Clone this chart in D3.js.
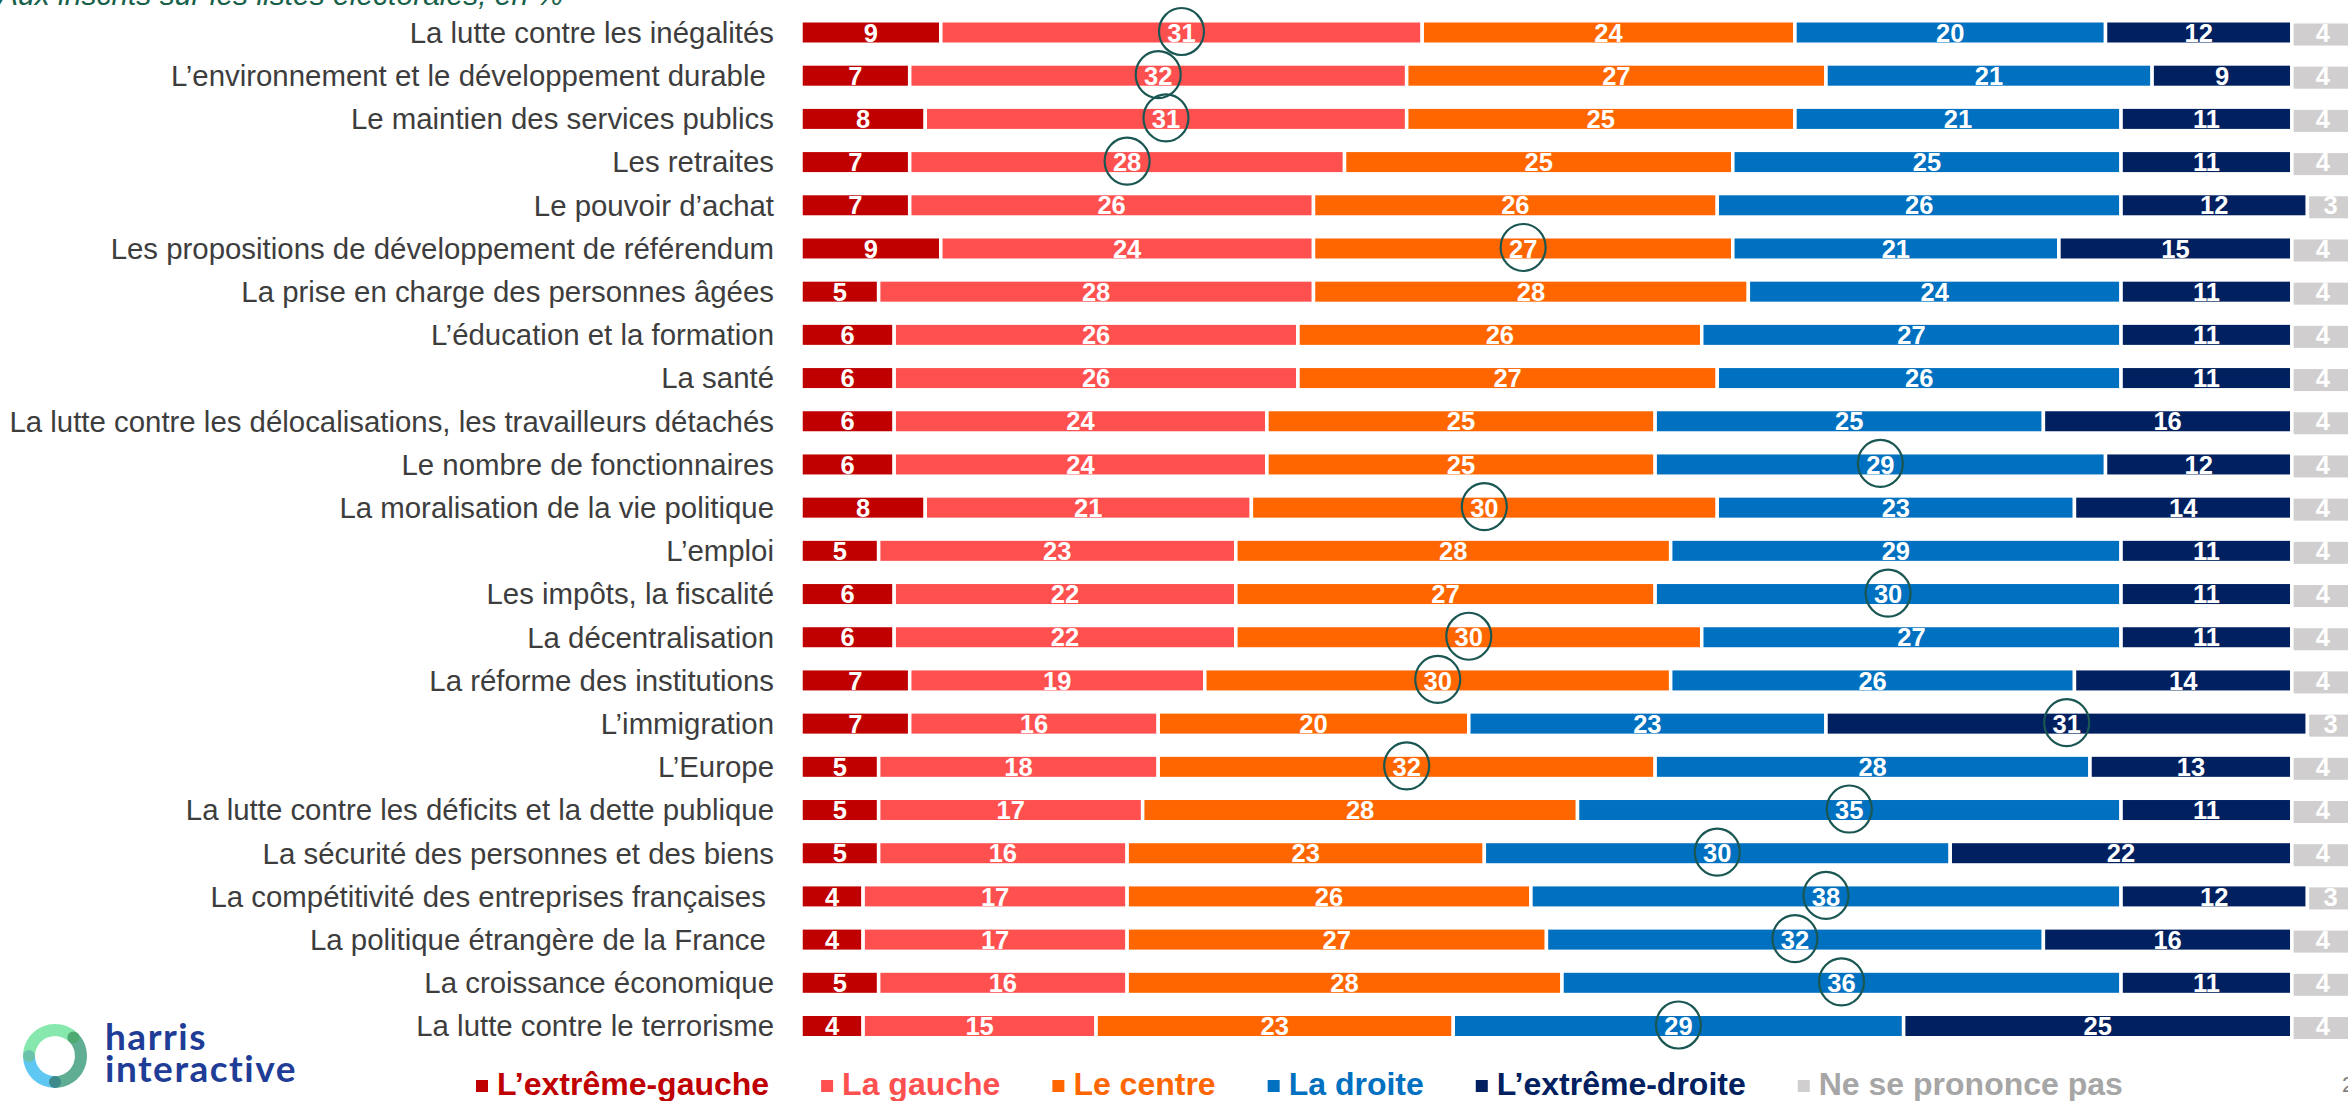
<!DOCTYPE html>
<html>
<head>
<meta charset="utf-8">
<script src="https://cdn.jsdelivr.net/npm/d3@7"></script>
<style>
	body { margin: 0; background: #ffffff; }
	svg { display: block; font-family: 'Liberation Sans', Arial, sans-serif; }
</style>
</head>
<body>
<div id="chart"></div>
<script>
// Issues (rows), top to bottom
const categories = [
	'La lutte contre les inégalités',
	'L’environnement et le développement durable ',
	'Le maintien des services publics',
	'Les retraites',
	'Le pouvoir d’achat',
	'Les propositions de développement de référendum',
	'La prise en charge des personnes âgées',
	'L’éducation et la formation',
	'La santé',
	'La lutte contre les délocalisations, les travailleurs détachés',
	'Le nombre de fonctionnaires',
	'La moralisation de la vie politique',
	'L’emploi',
	'Les impôts, la fiscalité',
	'La décentralisation',
	'La réforme des institutions',
	'L’immigration',
	'L’Europe',
	'La lutte contre les déficits et la dette publique',
	'La sécurité des personnes et des biens',
	'La compétitivité des entreprises françaises ',
	'La politique étrangère de la France ',
	'La croissance économique',
	'La lutte contre le terrorisme'
];

// Series (stack order, left to right)
const series = ['L’extrême-gauche', 'La gauche', 'Le centre', 'La droite', 'L’extrême-droite', 'Ne se prononce pas'];
const seriesColors = ['#c00000', '#ff5050', '#ff6600', '#0070c0', '#002060', '#d0cece'];
const legendTextColors = ['#c00000', '#ff5050', '#ff6600', '#0070c0', '#002060', '#a6a6a6'];

// Values in %
const extremeGauche = [9, 7, 8, 7, 7, 9, 5, 6, 6, 6, 6, 8, 5, 6, 6, 7, 7, 5, 5, 5, 4, 4, 5, 4];
const gauche        = [31, 32, 31, 28, 26, 24, 28, 26, 26, 24, 24, 21, 23, 22, 22, 19, 16, 18, 17, 16, 17, 17, 16, 15];
const centre        = [24, 27, 25, 25, 26, 27, 28, 26, 27, 25, 25, 30, 28, 27, 30, 30, 20, 32, 28, 23, 26, 27, 28, 23];
const droite        = [20, 21, 21, 25, 26, 21, 24, 27, 26, 25, 29, 23, 29, 30, 27, 26, 23, 28, 35, 30, 38, 32, 36, 29];
const extremeDroite = [12, 9, 11, 11, 12, 15, 11, 11, 11, 16, 12, 14, 11, 11, 11, 14, 31, 13, 11, 22, 12, 16, 11, 25];
const nsp           = [4, 4, 4, 4, 3, 4, 4, 4, 4, 4, 4, 4, 4, 4, 4, 4, 3, 4, 4, 4, 3, 4, 4, 4];

// Circled segment on each row (series index, null = none)
const circled = [1, 1, 1, 1, null, 2, null, null, null, null, 3, 2, null, 3, 2, 2, 4, 2, 3, 3, 3, 3, 3, 3];

const subtitle = 'Aux inscrits sur les listes électorales, en %';

const width = 2348,
	height = 1101;

const svg = d3.select('#chart').append('svg')
	.attr('width', width)
	.attr('height', height);

svg.append('rect')
	.attr('width', width)
	.attr('height', height)
	.attr('fill', '#ffffff');

// Build table for the stack
const table = categories.map((c, i) => ({
	category: c,
	0: extremeGauche[i],
	1: gauche[i],
	2: centre[i],
	3: droite[i],
	4: extremeDroite[i],
	5: nsp[i]
}));

const stacked = d3.stack().keys([0, 1, 2, 3, 4, 5])(table);

// Scales
const x = d3.scaleLinear().domain([0, 100]).range([801, 2354]);
const y = d3.scalePoint().domain(categories).range([32.5, 1026]);
const barH = 23.5;

// Subtitle (cut at the top of the slide)
svg.append('text')
	.attr('x', -2)
	.attr('y', 5)
	.style('font-size', '30px')
	.style('font-style', 'italic')
	.style('fill', '#17604a')
	.text(subtitle);

// Row labels
svg.append('g')
	.selectAll('text')
	.data(categories)
	.enter()
	  .append('text')
		.attr('x', 774)
		.attr('y', d => y(d))
		.attr('dy', '0.35em')
		.attr('text-anchor', 'end')
		.style('white-space', 'pre')
		.style('font-size', '29.4px')
		.style('fill', '#3d3d3d')
		.text(d => d);

// Bars
const layers = svg.append('g')
	.selectAll('g')
	.data(stacked)
	.enter()
	  .append('g')
		.attr('fill', d => seriesColors[d.key]);

layers.selectAll('rect')
	.data(d => d.map(v => Object.assign(v, {key: d.key})))
	.enter()
	  .append('rect')
		.attr('x', d => x(d[0]))
		.attr('y', d => y(d.data.category) - barH / 2 + (d.key === 5 ? 1 : 0))
		.attr('width', d => x(d[1]) - x(d[0]))
		.attr('height', d => barH + (d.key === 5 ? 2 : 0))
		.attr('stroke', '#ffffff')
		.attr('stroke-width', 3.5);

// Value labels
layers.selectAll('text')
	.data(d => d)
	.enter()
	  .append('text')
		.attr('x', d => x((d[0] + d[1]) / 2))
		.attr('y', d => y(d.data.category))
		.attr('dy', '0.36em')
		.attr('text-anchor', 'middle')
		.style('font-size', '25.5px')
		.style('font-weight', 'bold')
		.style('fill', '#ffffff')
		.text(d => d[1] - d[0]);

// Circles around the highlighted values
svg.append('g')
	.selectAll('ellipse')
	.data(categories.map((c, i) => ({category: c, i: i, k: circled[i]})).filter(d => d.k !== null))
	.enter()
	  .append('ellipse')
		.attr('cx', d => x((stacked[d.k][d.i][0] + stacked[d.k][d.i][1]) / 2))
		.attr('cy', d => y(d.category) - 1)
		.attr('rx', 22.5)
		.attr('ry', 23.5)
		.attr('fill', 'none')
		.attr('stroke', '#1a5753')
		.attr('stroke-width', 2.2);

// Legend
const legend = svg.append('g').attr('transform', 'translate(476,1095)');
let lx = 0;
series.forEach((s, i) => {
	legend.append('rect')
		.attr('x', lx)
		.attr('y', -15)
		.attr('width', 12)
		.attr('height', 12)
		.attr('fill', seriesColors[i]);
	const t = legend.append('text')
		.attr('x', lx + 21)
		.attr('y', 0)
		.style('font-size', '32px')
		.style('font-weight', 'bold')
		.style('fill', legendTextColors[i])
		.text(s);
	lx += 21 + t.node().getComputedTextLength() + 52;
});

// Page number, cut at the right edge
svg.append('text')
	.attr('x', 2342)
	.attr('y', 1092)
	.style('font-size', '22px')
	.style('fill', '#7f7f7f')
	.text('2');

// Logo
const logo = svg.append('g').attr('transform', 'translate(55,1056)');
const ring = d3.arc().innerRadius(20).outerRadius(32);
[
	{start: -Math.PI / 2, end: Math.PI / 4, color: '#86e8ac'},
	{start: Math.PI / 4, end: Math.PI, color: '#5fae94'},
	{start: Math.PI, end: 3 * Math.PI / 2, color: '#5ec8f3'}
].forEach(s => {
	logo.append('path')
		.attr('d', ring.startAngle(s.start).endAngle(s.end)())
		.attr('fill', s.color);
});
[
	{a: Math.PI / 4, color: '#4dab72'},
	{a: Math.PI, color: '#3f8a8c'},
	{a: -Math.PI / 2, color: '#6cc2a8'}
].forEach(d => {
	logo.append('circle')
		.attr('cx', 26 * Math.sin(d.a))
		.attr('cy', -26 * Math.cos(d.a))
		.attr('r', 6)
		.attr('fill', d.color);
});
['harris', 'interactive'].forEach((w, i) => {
	logo.append('text')
		.attr('x', 50)
		.attr('y', i ? 26 : -6)
		.style('font-family', 'Lato, sans-serif')
		.style('font-size', '37px')
		.style('letter-spacing', '1.5px')
		.style('font-weight', 'bold')
		.style('fill', '#1f3d96')
		.text(w);
});
</script>
</body>
</html>
